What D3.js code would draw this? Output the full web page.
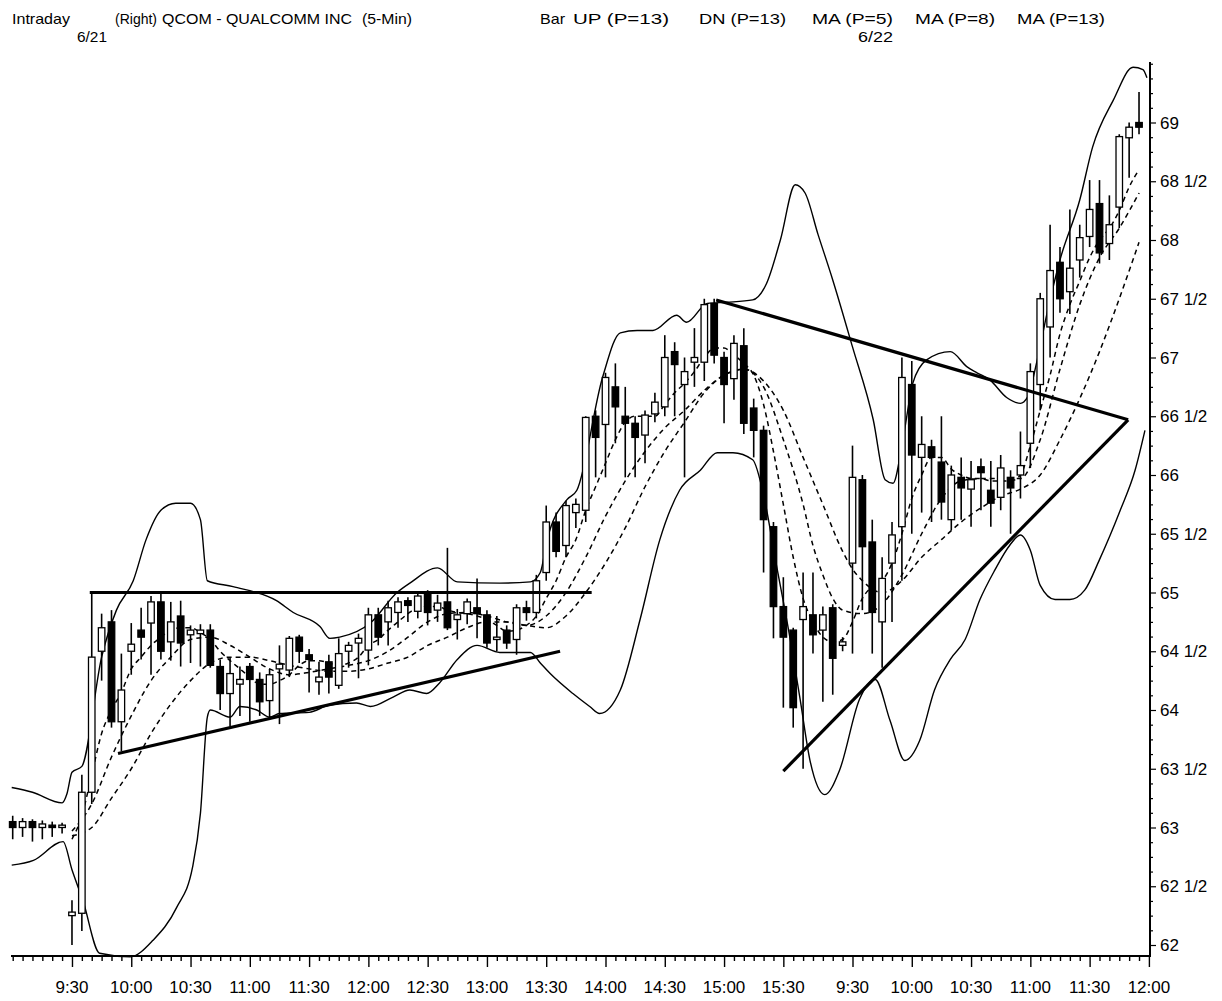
<!DOCTYPE html>
<html><head><meta charset="utf-8">
<script src="https://cdn.jsdelivr.net/npm/d3@7"></script>
<style>
body{margin:0;background:#fff}
text{font-family:'Liberation Sans',Arial,sans-serif;fill:#000}
</style>
</head><body>
<svg id="c" width="1222" height="1001"></svg>
<script>
// ---------- DATA ----------
const candleSlot = [-6,-5,-4,-3,-2,-1,0,1,2,3,4,5,6,7,8,9,10,11,12,13,14,15,16,17,18,19,20,21,22,23,24,25,26,27,28,29,30,31,32,33,34,35,36,37,38,39,40,41,42,43,44,45,46,47,48,49,50,51,52,53,54,55,56,57,58,59,60,61,62,63,64,65,66,67,68,69,70,71,72,73,74,75,76,77,78,79,80,81,82,83,84,85,86,87,88,89,90,91,92,93,94,95,96,97,98,99,100,101,102,103,104,105,106,107,108];
const candleOpen = [63.05,63.0,63.05,63.0,63.02,63.0,62.25,62.27,63.3,64.5,64.75,63.9,64.5,64.68,64.74,64.92,64.58,64.8,64.64,64.65,64.68,64.37,64.14,64.22,64.37,64.26,64.08,64.35,64.34,64.62,64.47,64.24,64.41,64.21,64.5,64.57,64.51,64.81,64.75,64.83,64.93,64.84,64.99,64.85,64.92,64.77,64.82,64.87,64.81,64.6,64.68,64.6,64.87,64.83,65.17,65.6,65.4,65.68,65.7,66.5,66.43,66.75,66.5,66.44,66.34,66.52,66.58,67.05,66.77,66.96,66.96,67.46,67.0,66.82,67.1,66.57,66.38,65.56,64.88,64.68,64.77,64.81,64.68,64.87,64.55,65.25,65.96,65.43,64.75,65.25,65.56,66.77,66.15,66.24,66.11,65.62,65.98,65.88,66.07,65.87,65.81,65.98,66.0,66.27,66.77,67.26,67.81,67.56,67.83,68.03,68.31,67.97,68.28,68.87,69.0];
const candleHigh = [63.1,63.08,63.07,63.06,63.05,63.04,62.38,63.45,65.0,64.82,64.85,64.48,64.74,64.87,64.97,65.0,64.92,64.93,64.72,64.73,64.73,64.43,64.45,64.37,64.4,64.32,64.35,64.55,64.63,64.64,64.52,64.41,64.47,64.61,64.58,64.65,64.87,64.87,64.93,64.96,64.96,65.0,65.02,64.98,65.38,64.86,64.95,65.12,64.85,64.8,64.72,64.9,64.93,65.15,65.74,65.68,65.78,65.8,66.5,66.55,66.87,66.95,66.75,66.5,66.55,66.7,67.19,67.13,67.0,67.25,67.5,67.5,67.05,67.19,67.25,66.65,66.42,65.6,65.13,64.7,65.17,65.17,64.88,64.9,64.62,66.25,66.0,65.62,65.3,65.6,67.0,66.97,66.5,66.3,66.5,66.08,66.15,66.12,66.14,66.12,66.17,66.04,66.37,66.95,67.55,68.13,67.94,68.26,68.13,68.51,68.51,68.38,68.9,69.0,69.26];
const candleLow = [62.9,62.92,62.88,62.9,62.92,62.95,62.0,62.12,63.2,64.25,63.85,63.65,64.3,64.43,64.3,64.43,64.42,64.37,64.4,64.37,64.36,64.0,63.86,63.95,63.9,63.95,63.93,63.88,64.28,64.4,64.15,64.13,64.14,64.18,64.36,64.27,64.38,64.55,64.55,64.7,64.75,64.78,64.72,64.75,64.68,64.6,64.73,64.61,64.53,64.5,64.52,64.47,64.76,64.78,65.1,65.3,65.3,65.55,65.6,65.98,65.98,66.27,65.98,65.98,66.1,66.45,66.5,66.5,65.98,66.75,66.8,66.95,66.44,66.64,66.35,66.15,65.17,64.61,64.02,63.85,63.5,64.48,64.07,64.13,64.5,64.48,64.85,64.48,64.36,64.75,65.1,65.5,65.68,65.6,65.62,65.53,65.62,65.56,65.7,65.56,65.7,65.5,65.8,66.06,66.55,67.0,67.38,67.37,67.68,67.94,67.8,67.83,68.1,68.53,68.9];
const candleClose = [63.0,63.05,63.0,63.03,63.0,63.02,62.28,63.3,64.45,64.7,63.9,64.17,64.56,64.62,64.92,64.5,64.75,64.57,64.68,64.68,64.38,64.14,64.31,64.26,64.26,64.07,64.3,64.39,64.61,64.5,64.43,64.28,64.28,64.48,64.55,64.61,64.81,64.62,64.87,64.92,64.89,64.97,64.83,64.91,64.7,64.81,64.92,64.82,64.57,64.62,64.57,64.87,64.83,65.1,65.6,65.35,65.74,65.75,66.49,66.32,66.83,66.58,66.44,66.32,66.51,66.62,67.0,66.94,66.88,67.0,67.45,67.02,66.77,67.12,66.44,66.38,65.62,64.88,64.62,64.02,64.88,64.64,64.81,64.44,64.58,65.98,65.39,64.83,65.12,65.49,66.83,66.17,66.26,66.15,65.77,66.0,65.89,65.96,66.02,65.76,66.06,65.89,66.08,66.88,67.5,67.74,67.5,67.76,68.02,68.26,67.89,68.13,68.88,68.96,68.96];

// Bollinger bands (P=13): [slot, price]
const bandUp = [[-6.1,63.34],[-4,63.30],[-1,63.21],[-0.5,63.29],[0,63.47],[1,63.52],[3,64.45],[4.5,64.85],[6.2,65.1],[7.5,65.45],[9,65.7],[10.5,65.76],[12,65.76],[13,65.62],[13.7,65.1],[16.3,65.05],[20.7,64.93],[22.4,64.83],[25.1,64.71],[26.1,64.61],[27.1,64.62],[30.2,64.74],[32.9,65.0],[34.2,65.08],[37,65.21],[39,65.09],[43.3,65.08],[46.4,65.09],[47.4,65.17],[48.1,65.45],[50.1,65.79],[51.1,65.87],[53.7,66.83],[55.5,67.21],[57.2,67.23],[58.8,67.23],[61.2,67.36],[62.2,67.30],[64.3,67.46],[66.3,67.47],[68.9,67.49],[70.3,67.63],[71.7,68.0],[73.2,68.47],[74.2,68.4],[75.5,68.05],[77,67.66],[79,67.09],[81.1,66.47],[82.3,65.96],[83.1,65.93],[84.1,66.3],[85.1,66.78],[86.5,66.98],[88.9,67.05],[90.6,66.92],[91.6,66.87],[92.9,66.81],[94.6,66.66],[96,66.61],[96.7,66.66],[97.7,66.98],[98.7,67.38],[100,67.83],[102,68.34],[103.3,68.79],[105.4,69.19],[107.4,69.47],[108.4,69.45],[108.8,69.38]];
const bandDn = [[-6.1,62.68],[-3.9,62.72],[-0.9,62.88],[0,62.64],[1.1,62.38],[2.8,61.93],[5.9,61.9],[8.2,62.04],[10.6,62.32],[12.2,62.66],[13,63.12],[13.7,63.94],[14,64.0],[16,63.94],[17,64.03],[18.7,64.0],[20,63.94],[21,63.97],[24,63.98],[26,64.04],[28.8,64.06],[30.2,64.03],[32.5,64.11],[34.2,64.17],[35.9,64.14],[37.2,64.23],[39,64.43],[41,64.55],[43.3,64.49],[46.4,64.49],[47.4,64.4],[48.4,64.31],[50.7,64.14],[52.4,64.03],[53.4,63.97],[55.5,64.17],[57.5,64.77],[59.5,65.45],[61.5,65.87],[63.6,66.04],[65.3,66.19],[66.9,66.19],[68.9,66.13],[70.1,65.79],[71.2,65.28],[72.7,64.6],[73.7,64.09],[74.7,63.57],[76.2,63.28],[77.7,63.49],[79.7,64.09],[81.3,64.26],[82.8,63.91],[84.3,63.57],[85.8,63.74],[87.3,64.17],[88.9,64.43],[90.4,64.6],[91.9,64.94],[93.4,65.19],[94.9,65.4],[96,65.49],[97,65.36],[98,65.06],[99.5,64.94],[101,64.94],[102.5,65.02],[104,65.28],[106.1,65.7],[107.6,66.04],[108.6,66.38]];

// Moving averages: [slot, price]
const ma5 = [[0,62.9],[1,63.1],[2,63.45],[3,63.8],[4,64.0],[5,64.15],[6,64.35],[7,64.45],[8,64.55],[9,64.62],[10,64.68],[11,64.7],[12,64.7],[13,64.66],[14,64.6],[15,64.5],[16,64.42],[17,64.35],[18,64.28],[19,64.22],[20,64.22],[21,64.25],[22,64.3],[23,64.38],[24,64.42],[25,64.42],[26,64.4],[27,64.38],[28,64.4],[29,64.45],[30,64.55],[31,64.6],[32,64.68],[33,64.75],[34,64.82],[35,64.87],[36,64.88],[37,64.88],[38,64.85],[39,64.83],[40,64.82],[41,64.8],[42,64.77],[43,64.72],[44,64.67],[45,64.68],[46,64.72],[47,64.8],[48,64.95],[49,65.1],[50,65.3],[51,65.45],[52,65.7],[53,65.9],[54,66.1],[55,66.3],[56,66.45],[57,66.5],[58,66.5],[59,66.5],[60,66.6],[61,66.7],[62,66.78],[63,66.88],[64,67.0],[65,67.08],[66,67.08],[67,67.02],[68,66.95],[69,66.85],[70,66.6],[71,66.2],[72,65.75],[73,65.3],[74,64.95],[75,64.75],[76,64.62],[77,64.58],[78,64.6],[79,64.75],[80,64.95],[81,65.05],[82,65.1],[83,65.25],[84,65.5],[85,65.8],[86,66.0],[87,66.15],[88,66.15],[89,66.05],[90,66.0],[91,65.97],[92,65.97],[93,65.95],[94,65.95],[95,65.95],[96,66.0],[97,66.25],[98,66.55],[99,66.85],[100,67.2],[101,67.45],[102,67.65],[103,67.85],[104,68.0],[105,68.1],[106,68.25],[107,68.45],[108,68.6]];
const ma8 = [[0,62.97],[2,63.2],[4,63.6],[6,63.95],[8,64.25],[10,64.45],[12,64.6],[14,64.62],[16,64.55],[18,64.45],[20,64.35],[22,64.3],[24,64.32],[26,64.35],[28,64.38],[30,64.42],[32,64.5],[34,64.62],[36,64.75],[38,64.82],[40,64.83],[42,64.8],[44,64.75],[46,64.72],[48,64.8],[50,65.0],[52,65.3],[54,65.65],[56,65.95],[58,66.2],[60,66.4],[62,66.55],[64,66.72],[66,66.85],[68,66.9],[70,66.75],[72,66.3],[74,65.75],[75,65.4],[76,65.15],[77,64.95],[78,64.85],[80,64.82],[82,64.9],[84,65.15],[86,65.5],[88,65.8],[90,65.95],[92,65.97],[94,65.97],[96,65.97],[98,66.3],[100,66.9],[102,67.45],[104,67.85],[106,68.1],[108,68.4]];
const ma13 = [[0,62.93],[2,63.0],[4,63.25],[6,63.5],[8,63.8],[10,64.05],[12,64.25],[14,64.4],[16,64.45],[18,64.45],[20,64.42],[22,64.38],[24,64.35],[26,64.33],[28,64.33],[30,64.35],[32,64.4],[34,64.45],[36,64.55],[38,64.62],[40,64.7],[42,64.75],[44,64.75],[46,64.72],[48,64.7],[50,64.8],[52,65.0],[54,65.25],[56,65.55],[58,65.9],[60,66.2],[62,66.45],[64,66.7],[66,66.85],[68,66.9],[70,66.8],[72,66.55],[74,66.15],[76,65.75],[78,65.35],[79,65.2],[80,65.1],[82,65.0],[84,65.1],[86,65.3],[88,65.45],[90,65.6],[92,65.72],[94,65.82],[96,65.88],[98,66.0],[100,66.3],[102,66.65],[104,67.05],[106,67.5],[108,67.98]];

// Trend lines drawn on the chart: [[slot, price],[slot, price]]
const trendLines = [
  [[1.8,65.0],[52.6,65.0]],
  [[4.66,63.63],[49.4,64.50]],
  [[65.2,67.49],[106.9,66.47]],
  [[72.0,63.48],[106.9,66.47]]
];

// Axis ticks / labels
const xTickSlots  = [0,6,12,18,24,30,36,42,48,54,60,66,72,79,85,91,97,103,109];
const xTickLabels = ["9:30","10:00","10:30","11:00","11:30","12:00","12:30","13:00","13:30","14:00","14:30","15:00","15:30","9:30","10:00","10:30","11:00","11:30","12:00"];
const yTickValues = [62,62.5,63,63.5,64,64.5,65,65.5,66,66.5,67,67.5,68,68.5,69];
const yTickLabels = ["62","62 1/2","63","63 1/2","64","64 1/2","65","65 1/2","66","66 1/2","67","67 1/2","68","68 1/2","69"];

// header texts: [text, left x, width]
const headerRow1 = [
  ["Intraday",12,58],["(Right)",115,42],["QCOM - QUALCOMM INC",162,190],["(5-Min)",362,50],
  ["Bar",540,25],["UP (P=13)",573,96],["DN (P=13)",699,87],["MA (P=5)",812,81],["MA (P=8)",915,80],["MA (P=13)",1017,88]
];
const headerRow2 = [["6/21",77,30],["6/22",858,35]];

// ---------- DRAW ----------
const svg = d3.select("#c");
const x = d3.scaleLinear().domain([-6,109]).range([12.7,1148.9]);
const y = d3.scaleLinear().domain([62,69]).range([945,122.5]);

// header
const hdr = svg.append("g").style("font-size","15px");
hdr.selectAll("text.r1").data(headerRow1).enter().append("text")
  .attr("x",d=>d[1]).attr("y",24).attr("textLength",d=>d[2])
  .attr("lengthAdjust","spacingAndGlyphs").text(d=>d[0]);
hdr.selectAll("text.r2").data(headerRow2).enter().append("text")
  .attr("x",d=>d[1]).attr("y",42).attr("textLength",d=>d[2])
  .attr("lengthAdjust","spacingAndGlyphs").text(d=>d[0]);

// x axis
const allSlots = d3.range(-6,110);
const gx = svg.append("g").attr("transform","translate(0,956)")
  .call(d3.axisBottom(x).tickValues(allSlots).tickSize(5).tickFormat(""));
gx.select(".domain").remove();
gx.selectAll(".tick line").attr("stroke","#000").attr("stroke-width",1.4)
  .attr("y2",d=>xTickSlots.includes(d)?11:5);
svg.append("line").attr("x1",11).attr("x2",1151).attr("y1",956).attr("y2",956)
  .attr("stroke","#000").attr("stroke-width",2);
svg.append("g").selectAll("text").data(xTickSlots).enter().append("text")
  .attr("x",d=>x(d)).attr("y",993).attr("text-anchor","middle")
  .style("font-size","17px").text((d,i)=>xTickLabels[i]);

// y axis
const yMinor = d3.range(0,61).map(i=>62+i*0.125);
const gy = svg.append("g").attr("transform","translate(1150,0)")
  .call(d3.axisRight(y).tickValues(yMinor).tickSize(3).tickFormat(""));
gy.select(".domain").remove();
gy.selectAll(".tick line").attr("stroke","#000").attr("stroke-width",1.2)
  .attr("x2",d=>yTickValues.includes(d)?6:3);
svg.append("line").attr("x1",1150).attr("x2",1150).attr("y1",62).attr("y2",957)
  .attr("stroke","#000").attr("stroke-width",2);
svg.append("g").selectAll("text").data(yTickValues).enter().append("text")
  .attr("x",1160).attr("y",d=>y(d)+6).style("font-size","17px")
  .text((d,i)=>yTickLabels[i]);

// bands
const smooth = d3.line().x(d=>x(d[0])).y(d=>y(d[1])).curve(d3.curveMonotoneX);
[bandUp,bandDn].forEach(b=>{
  svg.append("path").attr("d",smooth(b)).attr("fill","none")
    .attr("stroke","#000").attr("stroke-width",1.4);
});
// moving averages
[ma5,ma8,ma13].forEach(m=>{
  svg.append("path").attr("d",smooth(m)).attr("fill","none")
    .attr("stroke","#000").attr("stroke-width",1.5).attr("stroke-dasharray","5,4");
});

// candles
const cdata = candleSlot.map((s,i)=>({s,o:candleOpen[i],h:candleHigh[i],l:candleLow[i],c:candleClose[i]}));
const cg = svg.append("g");
cg.selectAll("line").data(cdata).enter().append("line")
  .attr("x1",d=>x(d.s)).attr("x2",d=>x(d.s))
  .attr("y1",d=>y(d.h)).attr("y2",d=>y(d.l))
  .attr("stroke","#000").attr("stroke-width",1.6);
const bw = 6.5;
cg.selectAll("rect").data(cdata).enter().append("rect")
  .attr("x",d=>x(d.s)-bw/2).attr("width",bw)
  .attr("y",d=>y(Math.max(d.o,d.c)))
  .attr("height",d=>Math.max(2,Math.abs(y(d.o)-y(d.c))))
  .attr("fill",d=>d.c>=d.o?"#fff":"#000")
  .attr("stroke","#000").attr("stroke-width",1.3);

// trend lines
const straight = d3.line().x(d=>x(d[0])).y(d=>y(d[1]));
trendLines.forEach(t=>{
  svg.append("path").attr("d",straight(t)).attr("fill","none")
    .attr("stroke","#000").attr("stroke-width",3.2);
});
</script>
</body></html>
